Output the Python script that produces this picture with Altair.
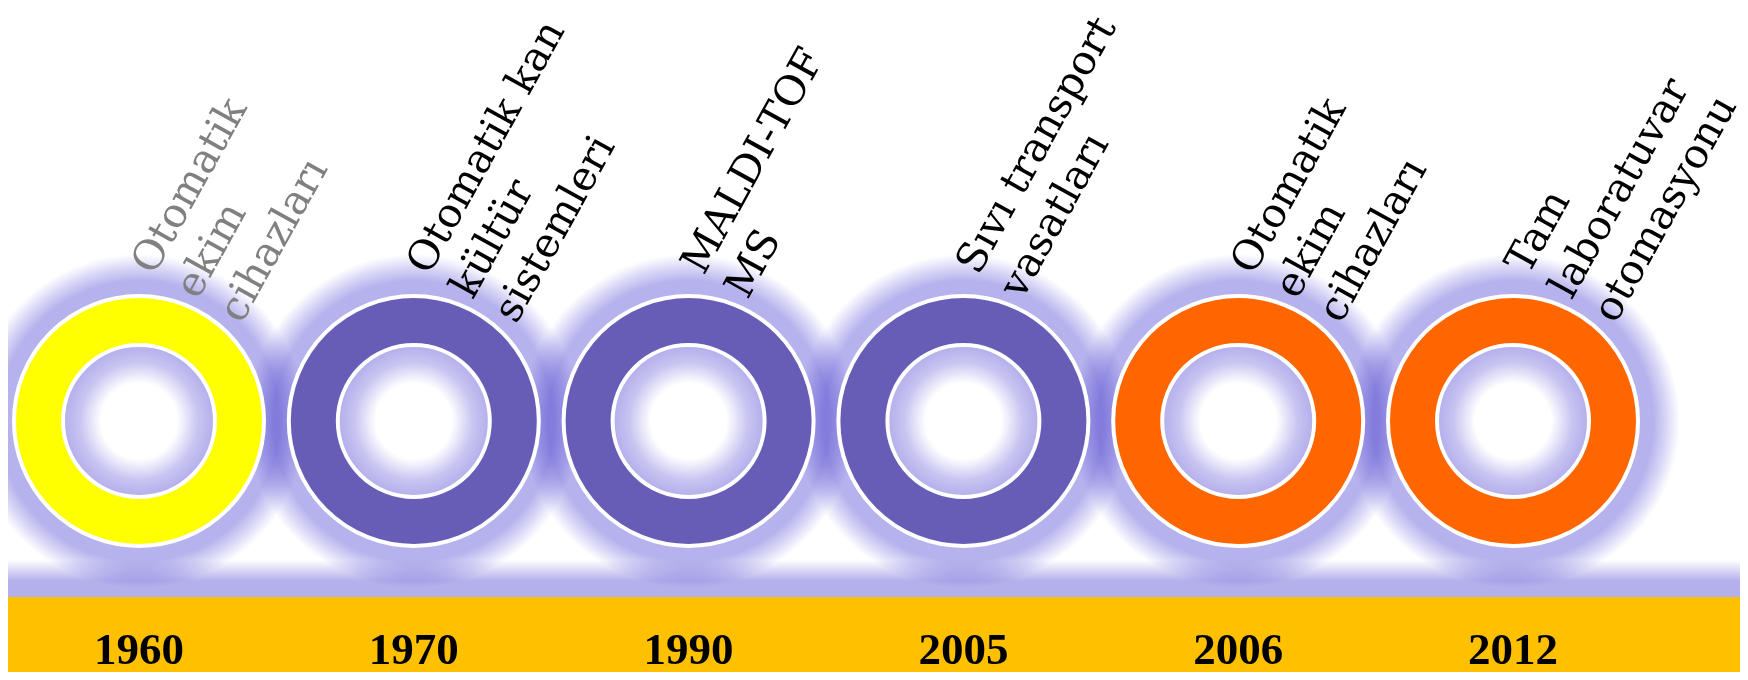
import altair as alt
import pandas as pd

years = ["1960", "1970", "1990", "2005", "2006", "2012"]
labels = [
    "Otomatik\nekim\ncihazları",
    "Otomatik kan\nkültür\nsistemleri",
    "MALDI-TOF\nMS",
    "Sıvı transport\nvasatları",
    "Otomatik\nekim\ncihazları",
    "Tam\nlaboratuvar\notomasyonu",
]
ring_colors = ["#FFFF00", "#675DB7", "#675DB7", "#675DB7", "#FF6600", "#FF6600"]
label_colors = ["#808080", "#000000", "#000000", "#000000", "#000000", "#000000"]

W, H = 1732, 664

df = pd.DataFrame({
    "i": list(range(len(years))),
    "year": years,
    "label": labels,
    "ring": ring_colors,
    "tcolor": label_colors,
})
one = pd.DataFrame({"k": [0]})

xs = alt.X("i:Q", scale=alt.Scale(domain=[-0.4767, 5.826]), axis=None)
cy = alt.value(413)

glow_fill = {
    "gradient": "radial", "x1": 0.5, "y1": 0.5, "x2": 0.5, "y2": 0.5, "r1": 0, "r2": 0.5,
    "stops": [
        {"offset": 0.0, "color": "rgba(182,178,237,1)"},
        {"offset": 0.84, "color": "rgba(182,178,237,1)"},
        {"offset": 0.92, "color": "rgba(186,182,239,0.55)"},
        {"offset": 1.0, "color": "rgba(190,186,240,0)"},
    ],
}
hole_fill = {
    "gradient": "radial", "x1": 0.5, "y1": 0.5, "x2": 0.5, "y2": 0.5, "r1": 0, "r2": 0.5,
    "stops": [
        {"offset": 0.0, "color": "#FFFFFF"},
        {"offset": 0.5, "color": "#FFFFFF"},
        {"offset": 0.78, "color": "#C8C4F1"},
        {"offset": 1.0, "color": "#B3AEEB"},
    ],
}
band_fill = {
    "gradient": "linear", "x1": 0, "y1": 0, "x2": 0, "y2": 1,
    "stops": [
        {"offset": 0.0, "color": "rgba(180,176,236,0)"},
        {"offset": 0.55, "color": "rgba(180,176,236,1)"},
        {"offset": 1.0, "color": "rgba(180,176,236,1)"},
    ],
}

band_lav = alt.Chart(one).mark_rect(fill=band_fill).encode(
    x=alt.value(0), x2=alt.value(W), y=alt.value(552), y2=alt.value(590))
band_amber = alt.Chart(one).mark_rect(fill="#FFC000").encode(
    x=alt.value(0), x2=alt.value(W), y=alt.value(589), y2=alt.value(H))

glow = alt.Chart(df).mark_circle(fill=glow_fill, opacity=1, blend="multiply", size=(2 * 167) ** 2).encode(x=xs, y=cy)
ring = alt.Chart(df).mark_circle(opacity=1, size=(2 * 125) ** 2, stroke="white", strokeWidth=4).encode(
    x=xs, y=cy, fill=alt.Fill("ring:N", scale=None))
hole = alt.Chart(df).mark_circle(fill=hole_fill, opacity=1, size=(2 * 76) ** 2, stroke="white", strokeWidth=4).encode(
    x=xs, y=cy)

text = alt.Chart(df).mark_text(
    font="DejaVu Serif", fontSize=41, angle=299, align="left", baseline="alphabetic",
    dx=134, dy=-57, lineBreak="\n", lineHeight=50,
).encode(x=xs, y=cy, text="label:N", color=alt.Color("tcolor:N", scale=None))

yr = alt.Chart(df).mark_text(
    font="Liberation Serif", fontSize=45, fontWeight="bold", align="center", baseline="alphabetic", color="black",
).encode(x=xs, y=alt.value(656), text="year:N")

chart = alt.layer(band_lav, band_amber, glow, ring, hole, text, yr).properties(
    width=W, height=H, padding=0, autosize=alt.AutoSizeParams(type="none"),
).configure_view(strokeWidth=0)

chart.save("out.html", embed_options={"renderer": "svg", "actions": False})
